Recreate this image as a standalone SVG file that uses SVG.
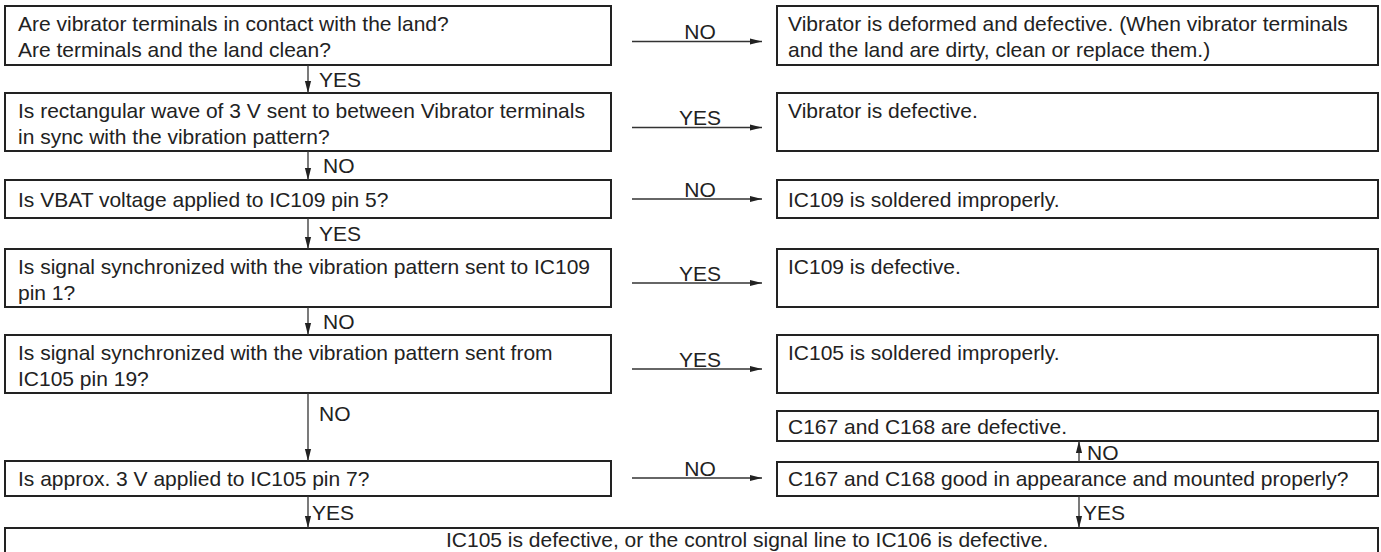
<svg xmlns="http://www.w3.org/2000/svg" width="1381" height="552" viewBox="0 0 1381 552">
<defs>
<marker id="ah" viewBox="0 0 12 8" refX="12" refY="4" markerWidth="12" markerHeight="8" markerUnits="userSpaceOnUse" orient="auto">
<path d="M0,0.9 L12,4 L0,7.1 Z" fill="#222"/>
</marker>
<style>
.box{fill:#fff;stroke:#222;stroke-width:2}
.t{font-family:"Liberation Sans",Arial,sans-serif;font-size:21px;fill:#222}
.lab{font-family:"Liberation Sans",Arial,sans-serif;font-size:21px;fill:#222}
.c{stroke:#333;stroke-width:1.3;fill:none;marker-end:url(#ah)}
</style>
</defs>
<rect width="1381" height="552" fill="#fff"/>
<g id="q1"><rect class="box" x="5" y="6" width="606" height="59"/><text class="t" x="18" y="31">Are vibrator terminals in contact with the land?</text><text class="t" x="18" y="57">Are terminals and the land clean?</text></g>
<g id="r1"><rect class="box" x="777" y="6" width="601" height="59"/><text class="t" x="788" y="31">Vibrator is deformed and defective. (When vibrator terminals</text><text class="t" x="788" y="57">and the land are dirty, clean or replace them.)</text></g>
<g id="q2"><rect class="box" x="5" y="93" width="606" height="58"/><text class="t" x="18" y="118">Is rectangular wave of 3 V sent to between Vibrator terminals</text><text class="t" x="18" y="144">in sync with the vibration pattern?</text></g>
<g id="r2"><rect class="box" x="777" y="93" width="601" height="58"/><text class="t" x="788" y="118">Vibrator is defective.</text></g>
<g id="q3"><rect class="box" x="5" y="180" width="606" height="38"/><text class="t" x="18" y="207">Is VBAT voltage applied to IC109 pin 5?</text></g>
<g id="r3"><rect class="box" x="777" y="180" width="601" height="38"/><text class="t" x="788" y="207">IC109 is soldered improperly.</text></g>
<g id="q4"><rect class="box" x="5" y="249" width="606" height="58"/><text class="t" x="18" y="274">Is signal synchronized with the vibration pattern sent to IC109</text><text class="t" x="18" y="300">pin 1?</text></g>
<g id="r4"><rect class="box" x="777" y="249" width="601" height="58"/><text class="t" x="788" y="274">IC109 is defective.</text></g>
<g id="q5"><rect class="box" x="5" y="335" width="606" height="58"/><text class="t" x="18" y="360">Is signal synchronized with the vibration pattern sent from</text><text class="t" x="18" y="386">IC105 pin 19?</text></g>
<g id="r5"><rect class="box" x="777" y="335" width="601" height="58"/><text class="t" x="788" y="360">IC105 is soldered improperly.</text></g>
<g id="r5b"><rect class="box" x="777" y="411" width="601" height="30"/><text class="t" x="788" y="434">C167 and C168 are defective.</text></g>
<g id="q6"><rect class="box" x="5" y="461" width="606" height="35"/><text class="t" x="18" y="486">Is approx. 3 V applied to IC105 pin 7?</text></g>
<g id="r6"><rect class="box" x="777" y="462" width="601" height="34"/><text class="t" x="788" y="486">C167 and C168 good in appearance and mounted properly?</text></g>
<g id="end"><rect class="box" x="5" y="528" width="1373" height="30"/><text class="t" x="446" y="547">IC105 is defective, or the control signal line to IC106 is defective.</text></g>
<g id="connectors">
<line class="c" x1="632" y1="41.5" x2="762" y2="41.5"/><text class="lab" x="700" y="39" text-anchor="middle">NO</text>
<line class="c" x1="632" y1="127.5" x2="762" y2="127.5"/><text class="lab" x="700" y="125" text-anchor="middle">YES</text>
<line class="c" x1="632" y1="199" x2="762" y2="199"/><text class="lab" x="700" y="196.5" text-anchor="middle">NO</text>
<line class="c" x1="632" y1="283" x2="762" y2="283"/><text class="lab" x="700" y="280.5" text-anchor="middle">YES</text>
<line class="c" x1="632" y1="369" x2="762" y2="369"/><text class="lab" x="700" y="366.5" text-anchor="middle">YES</text>
<line class="c" x1="632" y1="478" x2="762" y2="478"/><text class="lab" x="700" y="475.5" text-anchor="middle">NO</text>
<line class="c" x1="308" y1="65" x2="308" y2="93"/><text class="lab" x="319" y="87">YES</text>
<line class="c" x1="308" y1="151" x2="308" y2="180"/><text class="lab" x="323" y="173">NO</text>
<line class="c" x1="308" y1="218" x2="308" y2="249"/><text class="lab" x="319" y="241">YES</text>
<line class="c" x1="308" y1="307" x2="308" y2="335"/><text class="lab" x="323" y="329">NO</text>
<line class="c" x1="308" y1="393" x2="308" y2="461"/><text class="lab" x="319" y="421">NO</text>
<line class="c" x1="308" y1="496" x2="308" y2="528"/><text class="lab" x="312" y="520">YES</text>
<line class="c" x1="1079" y1="462" x2="1079" y2="441"/><text class="lab" x="1087" y="460">NO</text>
<line class="c" x1="1079" y1="496" x2="1079" y2="528"/><text class="lab" x="1083" y="520">YES</text>
</g>
</svg>
